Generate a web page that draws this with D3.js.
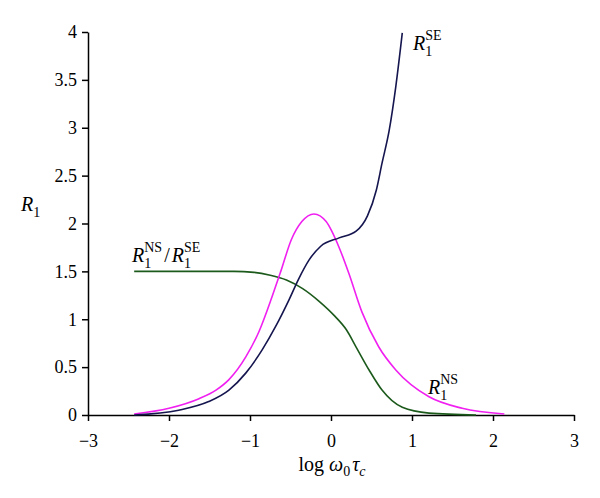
<!DOCTYPE html>
<html>
<head>
<meta charset="utf-8">
<script src="https://cdn.jsdelivr.net/npm/d3@7"></script>
<style>
  body { margin: 0; background: #fff; }
  svg text { font-family: "Liberation Serif", "DejaVu Serif", serif; }
</style>
</head>
<body>
<div id="chart"></div>
<script>
// data (x = log w0 tc)
var nsX = [-2.43, -2.0, -1.63, -1.42, -1.26, -1.05, -0.89, -0.73, -0.62, -0.49, -0.36, -0.21, -0.06, 0.10, 0.22, 0.38, 0.59, 0.80, 1.21, 1.62, 2.14]
var nsY = [0.01, 0.07, 0.17, 0.26, 0.37, 0.61, 0.87, 1.23, 1.50, 1.83, 2.02, 2.10, 2.02, 1.75, 1.48, 1.08, 0.71, 0.47, 0.19, 0.07, 0.01]

var seX = [-2.43, -1.88, -1.51, -1.26, -1.05, -0.85, -0.68, -0.52, -0.40, -0.27, -0.13, 0.10, 0.31, 0.45, 0.56, 0.63, 0.72, 0.80, 0.88]
var seY = [0.0, 0.05, 0.14, 0.26, 0.44, 0.68, 0.93, 1.20, 1.42, 1.62, 1.76, 1.85, 1.92, 2.08, 2.35, 2.63, 2.98, 3.43, 3.99]

var ratioX = [-2.43, -1.8, -1.2, -0.95, -0.75, -0.55, -0.35, -0.15, 0.05, 0.19, 0.31, 0.47, 0.63, 0.88, 1.21, 1.79]
var ratioY = [1.5, 1.5, 1.5, 1.49, 1.46, 1.41, 1.32, 1.19, 1.03, 0.89, 0.71, 0.47, 0.26, 0.08, 0.02, 0.0]

var xTicks = [-3, -2, -1, 0, 1, 2, 3]
var yTicks = [0, 0.5, 1, 1.5, 2, 2.5, 3, 3.5, 4]

var width = 600
    height = 498

var svg = d3.select("#chart")
  .append("svg")
    .attr("width", width)
    .attr("height", height)

var x = d3.scaleLinear().domain([-3, 3]).range([88, 574])
var y = d3.scaleLinear().domain([0, 4]).range([415, 32])

function fmt(d) { return String(d).replace("-", "\u2212") }

// x axis
var xAxis = svg.append("g")
  .attr("transform", "translate(0," + y(0) + ")")
  .call(d3.axisBottom(x).tickValues(xTicks).tickSize(6).tickSizeOuter(0).tickFormat(fmt))
  .attr("font-family", null).attr("font-size", 18)
xAxis.select(".domain").attr("stroke", "#000").attr("stroke-width", 1.5)
xAxis.selectAll(".tick line").attr("stroke", "#000").attr("stroke-width", 1.5)
xAxis.selectAll("text").attr("dy", "1.3em").attr("fill", "#000")

// y axis
var yAxis = svg.append("g")
  .attr("transform", "translate(" + x(-3) + ",0)")
  .call(d3.axisLeft(y).tickValues(yTicks).tickSize(6).tickSizeOuter(0).tickFormat(fmt))
  .attr("font-family", null).attr("font-size", 18)
yAxis.select(".domain").attr("stroke", "#000").attr("stroke-width", 1.5)
yAxis.selectAll(".tick line").attr("stroke", "#000").attr("stroke-width", 1.5)
yAxis.selectAll("text").attr("x", -11).attr("fill", "#000")

// lines
var line = d3.line()
  .x(function(d) { return x(d[0]) })
  .y(function(d) { return y(d[1]) })
  .curve(d3.curveMonotoneX)

function draw(xs, ys, color) {
  svg.append("path")
    .datum(d3.zip(xs, ys))
    .attr("d", line)
    .attr("fill", "none")
    .attr("stroke", color)
    .attr("stroke-width", 1.6)
}
draw(ratioX, ratioY, "#1c5a1c")
draw(nsX, nsY, "#f020f0")
draw(seX, seY, "#15154f")

// R label with sub 1 and a superscript
function rLabel(g, sup) {
  g.append("tspan").attr("font-style", "italic").text("R")
  g.append("tspan").attr("font-size", 14).attr("dy", 6).text("1")
  g.append("tspan").attr("font-size", 14).attr("dx", -7).attr("dy", -16).text(sup)
  g.append("tspan").attr("dy", 10).text("")
}

var t1 = svg.append("text").attr("x", 413).attr("y", 50).attr("font-size", 20)
rLabel(t1, "SE")

var t2 = svg.append("text").attr("x", 428).attr("y", 394).attr("font-size", 20)
rLabel(t2, "NS")

var t3 = svg.append("text").attr("x", 132).attr("y", 262).attr("font-size", 20)
t3.append("tspan").attr("font-style", "italic").text("R")
t3.append("tspan").attr("font-size", 14).attr("dy", 6).text("1")
t3.append("tspan").attr("font-size", 14).attr("dx", -7).attr("dy", -16).text("NS")
t3.append("tspan").attr("dy", 10).attr("dx", 2).text("/")
t3.append("tspan").attr("font-style", "italic").attr("dx", 2).text("R")
t3.append("tspan").attr("font-size", 14).attr("dy", 6).text("1")
t3.append("tspan").attr("font-size", 14).attr("dx", -7).attr("dy", -16).text("SE")

// y label
var yl = svg.append("text").attr("x", 21).attr("y", 211).attr("font-size", 20)
yl.append("tspan").attr("font-style", "italic").text("R")
yl.append("tspan").attr("font-size", 14).attr("dy", 6).text("1")

// x label
var xl = svg.append("text").attr("x", 332).attr("y", 471).attr("font-size", 20)
  .attr("text-anchor", "middle")
xl.append("tspan").text("log ")
xl.append("tspan").attr("font-style", "italic").text("\u03c9")
xl.append("tspan").attr("font-size", 14).attr("dy", 5).text("0")
xl.append("tspan").attr("font-style", "italic").attr("dy", -5).attr("dx", 2).text("\u03c4")
xl.append("tspan").attr("font-style", "italic").attr("font-size", 14).attr("dy", 5).text("c")
</script>
</body>
</html>
